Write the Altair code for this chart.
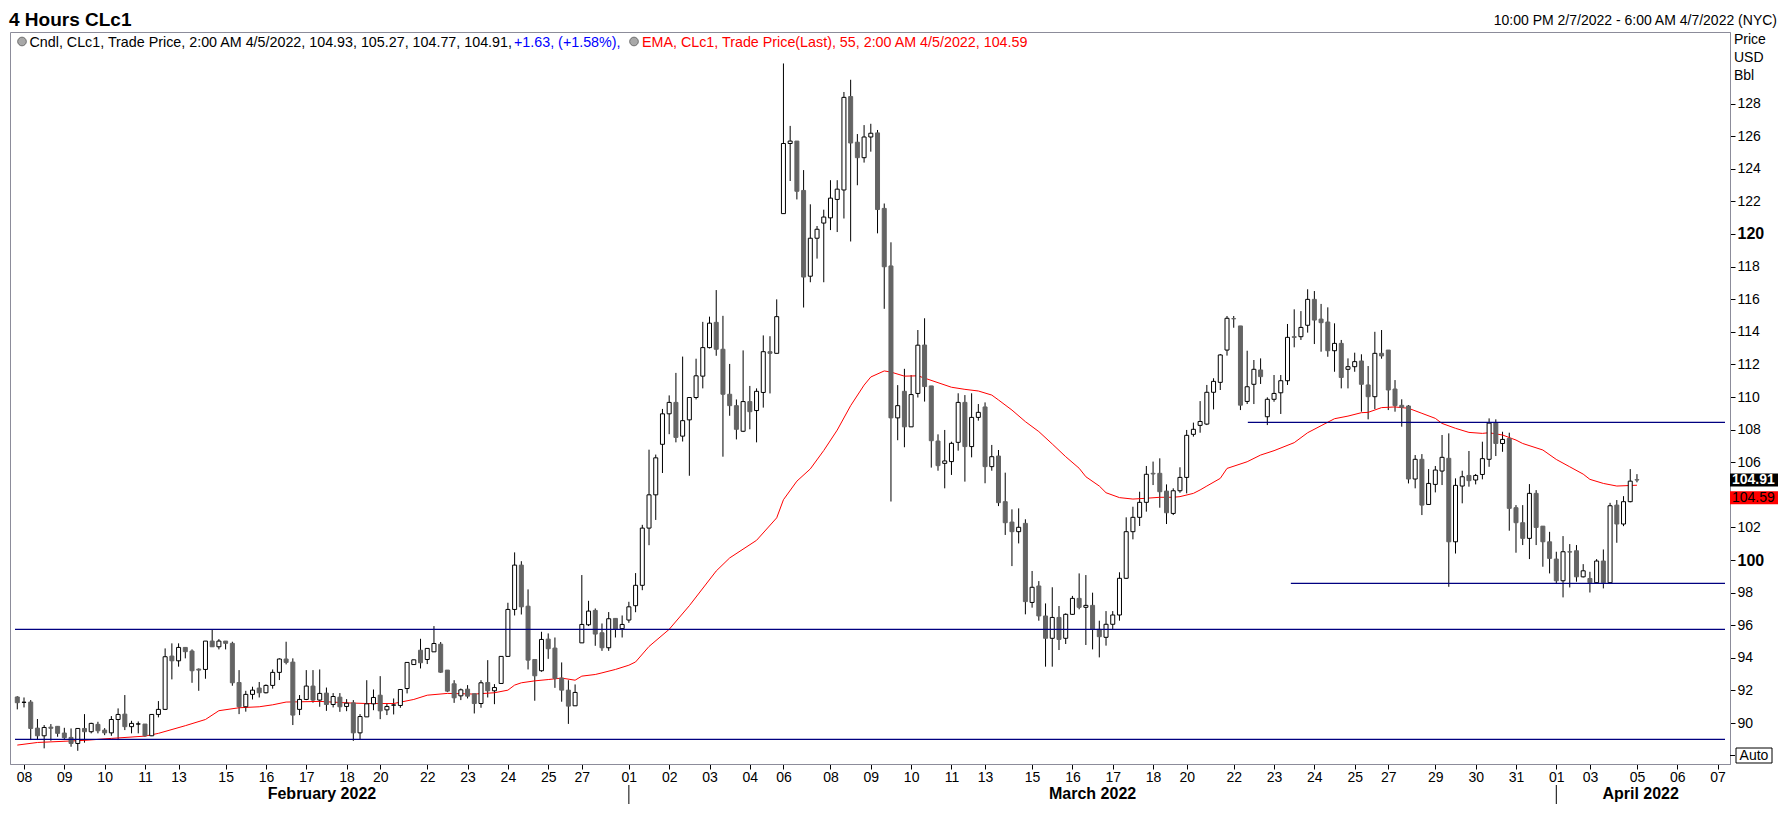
import altair as alt
import pandas as pd

# ---------------- data (4-hour candles, CLc1) ----------------
opens = [91.6, 91.27, 91.29, 89.69, 89.22, 89.75, 89.8, 89.39, 89.12, 88.75,
         89.67, 89.47, 89.92, 89.57, 89.4, 90.22, 90.55, 89.78, 89.94, 89.94,
         89.22, 90.53, 90.84, 94.11, 93.82, 94.64, 94.42, 93.31, 93.29, 95.03,
         94.68, 95.03, 94.89, 92.49, 91.0, 91.76, 92.15, 91.86, 92.31, 93.11,
         93.93, 93.74, 90.84, 91.45, 92.27, 91.41, 91.84, 91.14, 91.59, 91.02,
         91.24, 89.4, 90.38, 91.18, 91.71, 90.81, 91.1, 91.08, 92.12, 93.59,
         94.47, 93.9, 94.37, 94.84, 93.25, 92.41, 91.67, 92.08, 91.8, 91.2,
         92.49, 91.98, 92.43, 94.09, 96.97, 99.69, 97.17, 93.9, 93.21, 95.15,
         94.6, 92.76, 92.02, 91.06, 94.92, 96.03, 96.91, 95.54, 94.62, 96.42,
         95.79, 96.32, 97.2, 98.45, 101.96, 104.0, 107.1, 108.97, 109.67, 107.6,
         108.6, 109.97, 111.28, 113.03, 114.58, 112.93, 110.17, 109.47, 107.9, 109.72,
         109.17, 110.28, 112.78, 112.68, 121.25, 125.55, 125.7, 122.67, 117.41, 119.74,
         120.67, 120.99, 122.12, 122.7, 128.43, 125.63, 124.68, 125.95, 126.2, 121.57,
         118.04, 108.72, 110.35, 108.17, 110.22, 113.19, 110.68, 107.3, 105.93, 106.04,
         107.22, 109.67, 106.96, 108.75, 109.39, 105.73, 106.38, 103.58, 102.33, 101.74,
         102.25, 97.4, 98.41, 96.57, 95.2, 96.48, 95.2, 96.67, 97.65, 97.1,
         97.22, 95.75, 95.26, 96.06, 96.63, 98.88, 101.74, 102.62, 103.54, 105.32,
         105.32, 104.23, 102.86, 104.25, 105.07, 107.71, 108.26, 108.34, 110.29, 110.9,
         112.88, 114.81, 114.36, 109.73, 110.78, 111.66, 108.79, 109.86, 110.26, 111.0,
         113.7, 113.7, 114.4, 115.99, 114.78, 114.6, 112.84, 113.29, 111.7, 111.86,
         112.21, 110.74, 110.02, 112.68, 112.88, 110.49, 109.49, 109.45, 104.97, 106.18,
         103.41, 104.64, 105.46, 106.24, 101.12, 104.54, 105.19, 104.91, 105.25, 106.18,
         108.42, 107.15, 107.46, 103.21, 102.29, 101.33, 104.09, 102.08, 101.12, 100.06,
         98.73, 100.51, 100.57, 98.97, 98.87, 98.61, 99.94, 98.61, 103.37, 102.21,
         103.58, 104.93]
highs = [91.65, 91.57, 91.41, 90.25, 89.88, 89.94, 89.82, 89.71, 89.67, 89.67,
         90.55, 90.02, 90.08, 89.69, 90.43, 90.9, 91.72, 90.14, 90.1, 89.94,
         90.55, 91.35, 94.58, 94.89, 94.89, 94.64, 94.52, 93.35, 95.03, 95.75,
         95.15, 95.03, 94.99, 93.25, 91.98, 92.23, 92.52, 92.37, 93.29, 93.97,
         94.99, 93.97, 91.72, 93.25, 93.25, 93.29, 92.18, 91.84, 91.84, 91.47,
         91.41, 90.55, 92.63, 92.06, 92.88, 91.22, 91.51, 92.06, 93.72, 93.88,
         95.17, 94.58, 95.95, 94.97, 93.25, 92.63, 92.12, 92.33, 91.8, 92.63,
         93.86, 92.39, 94.09, 97.38, 100.47, 99.93, 98.2, 93.9, 95.6, 95.5,
         95.25, 93.72, 92.63, 92.37, 99.08, 97.5, 97.03, 96.11, 96.81, 96.42,
         96.6, 97.44, 99.2, 102.16, 106.77, 106.47, 109.27, 110.1, 111.48, 112.48,
         109.97, 112.35, 114.61, 114.93, 116.56, 114.98, 112.03, 109.85, 112.86, 110.68,
         110.53, 113.78, 113.73, 115.99, 130.46, 126.63, 125.7, 123.92, 121.82, 120.49,
         121.49, 123.3, 123.3, 128.71, 129.46, 126.13, 126.68, 126.76, 126.38, 121.87,
         119.49, 110.73, 111.73, 111.35, 114.11, 114.83, 110.68, 107.71, 107.98, 107.26,
         110.23, 110.12, 110.23, 109.57, 109.67, 107.06, 106.75, 105.36, 103.11, 103.17,
         102.5, 99.33, 98.71, 97.34, 98.33, 97.18, 96.73, 97.8, 99.18, 99.08,
         98.0, 96.28, 96.87, 96.87, 99.25, 102.62, 103.27, 104.19, 105.77, 106.04,
         106.24, 104.64, 104.4, 105.69, 107.98, 108.43, 109.75, 110.74, 111.15, 112.64,
         114.97, 114.97, 114.36, 112.84, 112.27, 112.37, 109.98, 111.35, 111.35, 114.48,
         115.38, 115.27, 116.61, 116.5, 115.71, 115.5, 114.52, 113.5, 112.37, 112.72,
         112.62, 111.9, 114.0, 114.11, 112.88, 111.04, 109.86, 109.51, 106.44, 106.5,
         105.58, 105.77, 107.67, 107.77, 105.01, 105.48, 106.69, 105.28, 107.26, 108.69,
         108.63, 107.87, 107.81, 103.37, 103.37, 104.66, 104.29, 102.08, 101.73, 100.51,
         101.47, 100.98, 100.92, 99.75, 99.28, 100.06, 100.65, 103.51, 103.68, 103.92,
         105.58, 105.27]
lows = [90.84, 90.96, 88.96, 88.96, 88.45, 88.92, 89.16, 88.96, 88.55, 88.3,
        88.8, 89.37, 89.37, 89.26, 89.22, 88.96, 89.57, 89.37, 89.37, 89.16,
        89.2, 90.35, 90.8, 92.68, 93.46, 93.97, 92.47, 91.98, 92.72, 94.68,
        94.52, 94.52, 92.29, 90.55, 90.7, 91.45, 91.57, 91.82, 92.11, 92.64,
        93.6, 89.88, 90.49, 91.41, 91.25, 91.0, 90.75, 90.96, 90.69, 90.73,
        88.91, 88.99, 90.38, 90.79, 90.24, 90.49, 90.53, 90.94, 91.82, 93.59,
        93.35, 93.62, 94.37, 93.08, 91.9, 91.24, 91.41, 91.51, 90.59, 90.94,
        91.57, 91.16, 92.43, 94.09, 96.6, 96.66, 93.29, 91.37, 93.15, 93.94,
        92.16, 91.31, 89.95, 91.06, 94.92, 95.95, 94.74, 94.43, 94.43, 95.25,
        95.25, 96.15, 96.8, 98.15, 100.91, 102.46, 105.34, 107.72, 107.22, 107.27,
        105.17, 109.85, 110.53, 112.98, 112.53, 106.34, 108.85, 107.4, 107.85, 108.02,
        107.22, 109.35, 110.22, 112.68, 121.25, 123.25, 122.12, 115.49, 117.04, 118.49,
        117.04, 120.24, 120.12, 120.95, 119.54, 122.99, 124.38, 125.05, 120.04, 115.41,
        103.59, 107.35, 106.92, 108.17, 109.97, 109.72, 105.67, 105.48, 104.4, 105.22,
        106.71, 104.81, 106.3, 108.55, 104.71, 105.48, 103.31, 101.54, 99.63, 101.02,
        96.67, 97.08, 96.28, 93.46, 93.46, 94.48, 94.85, 96.63, 96.98, 94.79,
        94.52, 94.03, 94.75, 95.77, 96.28, 98.84, 101.27, 102.09, 102.97, 104.6,
        103.21, 102.21, 102.76, 104.13, 104.09, 107.57, 107.81, 108.28, 109.24, 110.43,
        112.54, 114.25, 109.2, 109.57, 109.57, 110.8, 108.28, 109.71, 108.96, 110.74,
        113.05, 113.5, 113.95, 113.25, 112.78, 112.47, 111.55, 110.53, 110.53, 111.55,
        109.1, 108.63, 109.26, 112.35, 109.2, 109.1, 108.18, 104.7, 104.4, 102.76,
        103.41, 104.15, 104.6, 98.36, 100.4, 103.48, 104.5, 104.64, 104.95, 105.72,
        106.38, 106.64, 101.8, 100.45, 100.92, 100.06, 100.92, 99.59, 99.18, 98.53,
        97.71, 98.32, 98.67, 98.93, 98.01, 98.57, 98.26, 98.57, 101.06, 102.08,
        103.54, 104.77]
closes = [91.25, 91.28, 89.67, 89.22, 89.73, 89.68, 89.37, 89.1, 88.75, 89.67,
          89.47, 89.98, 89.53, 89.4, 90.22, 90.53, 89.78, 89.98, 89.95, 89.22,
          90.53, 90.84, 94.07, 93.82, 94.64, 94.38, 93.21, 93.25, 95.03, 94.68,
          95.03, 94.89, 92.47, 91.0, 91.76, 92.02, 91.86, 92.31, 93.11, 93.93,
          93.72, 90.49, 91.45, 92.27, 91.41, 91.82, 91.14, 91.63, 91.0, 91.22,
          89.4, 90.4, 91.18, 91.57, 90.75, 91.02, 91.11, 92.06, 93.72, 93.88,
          93.7, 94.58, 94.88, 93.12, 91.96, 91.55, 92.04, 91.65, 91.2, 92.47,
          91.98, 92.18, 94.09, 96.97, 99.69, 97.13, 93.86, 92.9, 95.13, 94.56,
          92.74, 92.02, 91.04, 91.88, 96.05, 96.87, 95.46, 94.62, 96.4, 95.76,
          96.05, 97.13, 98.45, 101.96, 104.0, 106.27, 108.97, 109.67, 107.52, 108.55,
          109.97, 111.3, 113.03, 114.53, 112.93, 110.17, 109.47, 108.02, 109.72, 109.1,
          110.35, 112.78, 112.68, 114.93, 125.55, 125.7, 122.62, 117.36, 119.74, 120.29,
          121.04, 122.2, 122.75, 128.38, 125.58, 124.68, 125.95, 126.18, 121.5, 117.99,
          108.72, 109.47, 108.17, 110.15, 113.18, 110.64, 107.32, 105.79, 106.08, 107.16,
          109.67, 106.96, 108.75, 109.06, 105.73, 106.34, 103.52, 102.29, 101.74, 102.01,
          97.45, 98.33, 96.57, 95.2, 96.48, 95.13, 96.67, 97.65, 97.1, 97.22,
          95.75, 95.3, 96.06, 96.63, 98.88, 101.74, 102.62, 103.54, 105.26, 105.28,
          104.19, 102.9, 104.25, 105.07, 107.65, 108.02, 108.5, 110.29, 110.96, 112.58,
          114.83, 114.8, 109.5, 110.63, 111.7, 111.25, 109.86, 110.22, 111.0, 113.66,
          113.66, 114.27, 115.99, 114.72, 114.56, 112.84, 113.29, 111.2, 111.86, 112.17,
          110.78, 110.02, 112.68, 112.52, 110.43, 109.47, 109.37, 104.97, 106.18, 103.37,
          104.7, 105.52, 106.3, 101.12, 104.58, 105.11, 104.87, 105.19, 106.22, 108.4,
          107.15, 107.4, 103.17, 102.29, 101.33, 104.09, 102.0, 101.12, 100.1, 98.73,
          100.51, 100.49, 98.97, 99.34, 98.61, 99.94, 98.61, 103.33, 102.21, 103.58,
          104.84, 104.91]

# EMA(55) at these bar numbers
ema_idx = [0, 3, 10, 14, 19, 21, 25, 28, 30, 33, 36, 38, 40, 45, 49, 52, 56, 59, 61, 64,
           68, 71, 73, 74, 75, 77, 79, 81, 83, 84, 86, 87, 89, 91, 92, 94, 97, 100, 104, 106,
           110, 113, 114, 116, 118, 120, 122, 124, 126, 127, 129, 130, 132, 134, 137, 139, 141, 143, 145, 146,
           148, 150, 152, 154, 156, 158, 159, 161, 162, 164, 166, 168, 170, 172, 173, 175, 176, 177, 179, 180,
           183, 185, 187, 190, 192, 194, 196, 198, 200, 201, 203, 205, 207, 209, 211, 212, 214, 216, 218, 219,
           221, 223, 224, 227, 229, 231, 233, 234, 236, 238, 241]
ema_val = [88.65, 88.81, 88.94, 89.06, 89.2, 89.37, 89.84, 90.22, 90.76, 90.94, 91.0, 91.12, 91.29, 91.33, 91.24, 91.2, 91.2, 91.45, 91.71, 91.82,
           91.78, 91.86, 92.02, 92.33, 92.47, 92.59, 92.67, 92.76, 92.63, 92.88, 92.98, 93.08, 93.29, 93.55, 93.75, 94.7, 95.75, 97.2, 99.33, 100.13,
           101.21, 102.59, 103.7, 104.84, 105.59, 106.72, 107.97, 109.47, 110.73, 111.23, 111.6, 111.53, 111.28, 111.3, 110.88, 110.6, 110.47, 110.37, 110.12, 109.82,
           109.2, 108.49, 107.88, 107.12, 106.34, 105.63, 105.11, 104.54, 104.13, 103.83, 103.74, 103.79, 103.85, 103.85, 103.89, 104.09, 104.3, 104.54, 105.01, 105.62,
           106.03, 106.44, 106.71, 107.2, 107.81, 108.24, 108.67, 108.83, 109.04, 109.06, 109.35, 109.39, 109.31, 109.0, 108.69, 108.38, 108.08, 107.83, 107.77, 107.81,
           107.67, 107.36, 107.15, 106.75, 106.17, 105.72, 105.27, 104.95, 104.7, 104.54, 104.59]

# first bar of each labelled session day
tick_idx = [1, 7, 13, 19, 24, 31, 37, 43, 49, 54, 61, 67, 73, 79, 84, 91, 97, 103, 109, 114,
            121, 127, 133, 139, 144, 151, 157, 163, 169, 174, 181, 187, 193, 199, 204, 211, 217, 223, 229, 234,
            241, 247, 253]
tick_lab = ['08', '09', '10', '11', '13', '15', '16', '17', '18', '20', '22', '23', '24', '25', '27',
            '01', '02', '03', '04', '06', '08', '09', '10', '11', '13', '15', '16', '17', '18', '20',
            '22', '23', '24', '25', '27', '29', '30', '31', '01', '03', '05', '06', '07']

# price ticks shown on the right axis (104 is hidden behind the last-value tags)
price_ticks = [90, 92, 94, 96, 98, 100, 102, 106, 108, 110, 112, 114, 116, 118, 120,
               122, 124, 126, 128]

month_names = ["February 2022", "March 2022", "April 2022"]
month_start = [91, 229]  # first bar of March and April

level_price = [95.75, 89.0, 108.45, 98.57]
level_from = [-0.34, -0.34, 183.1, 189.5]

last_close = 104.91
last_ema = 104.59

# ---------------- layout ----------------
X_MIN, X_MAX = -0.34, 254.1
Y_MIN, Y_MAX = 87.49, 132.39
W, H = 1720, 732
FONT = "Liberation Sans"
FRAME = "#8c8c9a"

xs = alt.Scale(domain=[X_MIN, X_MAX], nice=False, zero=False)
ys = alt.Scale(domain=[Y_MIN, Y_MAX], nice=False, zero=False)

candles = pd.DataFrame({"i": list(range(len(opens))), "o": opens, "h": highs, "l": lows, "c": closes})
candles["dir"] = ["up" if c > o else "down" for o, c in zip(opens, closes)]

ema_df = pd.DataFrame({"i": ema_idx, "v": ema_val})
lv_df = pd.DataFrame({"p": level_price, "s": level_from, "e": [X_MAX] * len(level_price)})

m_starts = [X_MIN] + month_start
m_ends = month_start + [X_MAX]
month_df = pd.DataFrame({"name": month_names, "ctr": [(a + b) / 2 for a, b in zip(m_starts, m_ends)]})
sep_df = pd.DataFrame({"m": month_start})

label_expr = ("[" + ",".join("'%s'" % s for s in tick_lab) + "][indexof(["
              + ",".join(str(v) for v in tick_idx) + "], datum.value)]")

x_axis = alt.Axis(values=tick_idx, labelExpr=label_expr, title=None, grid=False,
                  tickSize=5, tickColor="black", domainColor=FRAME, labelFont=FONT,
                  labelFontSize=14, labelColor="black", labelPadding=1,
                  labelOverlap=False, labelFlush=False, labelBound=False)
bold_test = "datum.value == 100 || datum.value == 120"
y_axis = alt.Axis(orient="right", values=price_ticks, title=None, grid=False,
                  tickSize=5, tickColor="black", domainColor=FRAME, labelFont=FONT,
                  labelFontSize={"condition": {"test": bold_test, "value": 16}, "value": 14},
                  labelFontWeight={"condition": {"test": bold_test, "value": "bold"}, "value": "normal"},
                  labelColor="black", labelPadding=2, labelOverlap=False, labelFlush=False,
                  labelBound=False)


def X(field):
    return alt.X(field, scale=xs, axis=x_axis)


def Y(field):
    return alt.Y(field, scale=ys, axis=y_axis)


wicks = alt.Chart(candles).mark_rule(color="black", strokeWidth=1).encode(
    x=X("i:Q"), y=Y("l:Q"), y2="h:Q",
)

bodies = alt.Chart(candles).mark_bar(width=4, strokeWidth=1).encode(
    x=X("i:Q"), y=Y("o:Q"), y2="c:Q",
    fill=alt.Fill("dir:N", scale=alt.Scale(domain=["up", "down"], range=["white", "#646464"]), legend=None),
    stroke=alt.Stroke("dir:N", scale=alt.Scale(domain=["up", "down"], range=["black", "#646464"]), legend=None),
)

ema = alt.Chart(ema_df).mark_line(color="#ff0000", strokeWidth=1).encode(
    x=X("i:Q"), y=Y("v:Q"),
)

levels = alt.Chart(lv_df).mark_rule(color="#000080", strokeWidth=1.2).encode(
    x=X("s:Q"), x2="e:Q", y=Y("p:Q"),
)

tag_df = pd.DataFrame({"v": [last_close], "lab": ["%.2f" % last_close],
                       "t": [last_close + 0.4], "b": [last_close - 0.4]})
ema_tag_df = pd.DataFrame({"v": [last_ema], "lab": ["%.2f" % last_ema],
                           "t": [last_ema + 0.4], "b": [last_ema - 0.4]})

tag_box = alt.Chart(tag_df).mark_rect(color="black").encode(
    x=alt.value(W), x2=alt.value(W + 50), y=Y("t:Q"), y2="b:Q")
tag_txt = alt.Chart(tag_df).mark_text(align="left", baseline="middle", font=FONT, fontSize=14,
                                      fontWeight="bold", color="white").encode(
    x=alt.value(W + 2), y=Y("v:Q"), text="lab:N")
ema_box = alt.Chart(ema_tag_df).mark_rect(color="#ff0000", yOffset=12.6, y2Offset=12.6).encode(
    x=alt.value(W), x2=alt.value(W + 50), y=Y("t:Q"), y2="b:Q")
ema_txt = alt.Chart(ema_tag_df).mark_text(align="left", baseline="middle", font=FONT, fontSize=14,
                                          color="black", yOffset=12.6).encode(
    x=alt.value(W + 2), y=Y("v:Q"), text="lab:N")

months = alt.Chart(month_df).mark_text(font=FONT, fontSize=16, fontWeight="bold", color="black",
                                       baseline="middle", align="center").encode(
    x=X("ctr:Q"), y=alt.value(762), text="name:N")
seps = alt.Chart(sep_df).mark_rule(color="black", strokeWidth=1).encode(
    x=X("m:Q"), y=alt.value(753), y2=alt.value(772))

one = pd.DataFrame({"a": [0]})


def label(txt, x, y, size=14, weight="normal", color="black", align="left", baseline="middle"):
    return alt.Chart(one).mark_text(text=txt, font=FONT, fontSize=size, fontWeight=weight,
                                    color=color, align=align, baseline=baseline).encode(
        x=alt.value(x), y=alt.value(y))


def icon(x, y):
    return alt.Chart(one).mark_circle(size=75, color="#a8a8a8", stroke="#555555",
                                      strokeWidth=0.8, opacity=1).encode(x=alt.value(x), y=alt.value(y))


title = label("4 Hours CLc1", -1, -6.5, size=19, weight="bold", baseline="alphabetic")
range_txt = label("10:00 PM 2/7/2022 - 6:00 AM 4/7/2022 (NYC)", 1767, -7, align="right",
                  baseline="alphabetic")
leg1 = label("Cndl, CLc1, Trade Price, 2:00 AM 4/5/2022, 104.93, 105.27, 104.77, 104.91,",
             19.5, 14.5, size=14.3, baseline="alphabetic")
leg2 = label("+1.63, (+1.58%),", 504, 14.5, size=14.3, color="#0000ff", baseline="alphabetic")
leg3 = label("EMA, CLc1, Trade Price(Last),  55, 2:00 AM 4/5/2022, 104.59", 632, 14.5,
             size=14.3, color="#ff0000", baseline="alphabetic")
unit1 = label("Price", 1724, 8)
unit2 = label("USD", 1724, 26)
unit3 = label("Bbl", 1724, 44)

auto_box = alt.Chart(one).mark_rect(fill="white", stroke="black", strokeWidth=1).encode(
    x=alt.value(1726), x2=alt.value(1762), y=alt.value(716), y2=alt.value(731))
auto_tick = alt.Chart(one).mark_rule(color="black").encode(
    x=alt.value(W), x2=alt.value(1725), y=alt.value(723.5))
auto_txt = label("Auto", 1744, 724, align="center")

chart = alt.layer(
    wicks, ema, bodies, levels, tag_box, tag_txt, ema_box, ema_txt, months, seps,
    title, range_txt, leg1, leg2, leg3, icon(12, 9.5), icon(624, 9.5),
    unit1, unit2, unit3, auto_box, auto_tick, auto_txt,
).properties(
    width=W, height=H,
    autosize=alt.AutoSizeParams(type="none"),
    padding={"left": 2, "top": 24, "right": 48, "bottom": 45},
    background="white",
).configure_view(stroke=FRAME, strokeWidth=1)

chart.save("out.html", embed_options={"renderer": "svg", "actions": False})
